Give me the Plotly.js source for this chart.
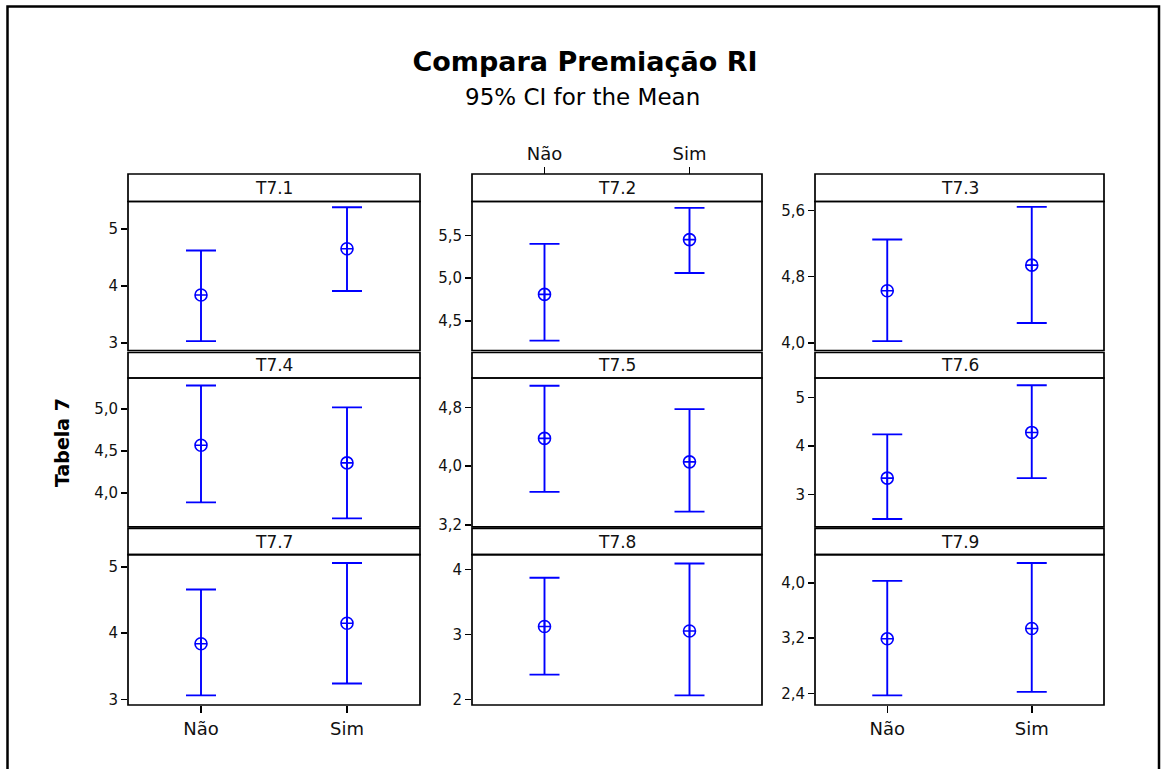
<!DOCTYPE html>
<html>
<head>
<meta charset="utf-8">
<script src="https://cdn.plot.ly/plotly-3.0.1.min.js"></script>
<style>html,body{margin:0;padding:0;background:#fff;}#chart{width:1165px;height:769px;}</style>
</head>
<body>
<div id="chart"></div>
<script>
// ---- data ----
const categories = ['Não', 'Sim'];
const panelNames = ['T7.1','T7.2','T7.3','T7.4','T7.5','T7.6','T7.7','T7.8','T7.9'];
const means = [
  [3.84, 4.65], [4.81, 5.45], [4.63, 4.94],
  [4.57, 4.36], [4.38, 4.06], [3.34, 4.28],
  [3.84, 4.15], [3.12, 3.05], [3.19, 3.34]
];
const lowerCI = [
  [3.03, 3.91], [4.27, 5.06], [4.02, 4.24],
  [3.89, 3.70], [3.65, 3.38], [2.50, 3.34],
  [3.06, 3.24], [2.38, 2.06], [2.37, 2.42]
];
const upperCI = [
  [4.62, 5.38], [5.40, 5.82], [5.25, 5.645],
  [5.28, 5.02], [5.10, 4.78], [4.24, 5.25],
  [4.66, 5.06], [3.87, 4.09], [4.03, 4.29]
];
const yTickVals = [
  [3, 4, 5], [4.5, 5.0, 5.5], [4.0, 4.8, 5.6],
  [4.0, 4.5, 5.0], [3.2, 4.0, 4.8], [3, 4, 5],
  [3, 4, 5], [2, 3, 4], [2.4, 3.2, 4.0]
];
const yTickFormats = ['d', '.1f', '.1f', '.1f', '.1f', 'd', 'd', 'd', '.1f'];
const yRanges = [
  [2.865, 5.48], [4.155, 5.895], [3.907, 5.71],
  [3.60, 5.37], [3.173, 5.205], [2.338, 5.40],
  [2.914, 5.186], [1.912, 4.225], [2.23, 4.41]
];
const titleText = 'Compara Premiação RI';
const subtitleText = '95% CI for the Mean';
const yTitleText = 'Tabela 7';

// ---- layout geometry (pixels) ----
const W = 1165, H = 769;
const cols = [[128, 420], [472, 762], [815, 1104]];
const rows = [
  {strip: 174, top: 201.5, bot: 350.5},
  {strip: 352.5, top: 378, bot: 526.8},
  {strip: 528.3, top: 554.7, bot: 705}
];
const px = v => v / W;
const py = v => 1 - v / H;
const FONT = 'DejaVu Sans';
const BLUE = '#0000FF';

const traces = [];
const shapes = [];
const annotations = [];
const layout = {
  width: W, height: H,
  margin: {l: 0, r: 0, t: 0, b: 0},
  paper_bgcolor: '#ffffff', plot_bgcolor: '#ffffff',
  separators: ',.',
  showlegend: false,
  font: {family: FONT, color: '#000'},
  title: {
    text: '<b>' + titleText + '</b>',
    x: px(585), xanchor: 'center',
    y: py(62), yanchor: 'middle',
    font: {family: FONT, size: 27, color: '#000'}
  }
};

for (let i = 0; i < 9; i++) {
  const r = Math.floor(i / 3), c = i % 3;
  const n = i + 1;
  const xa = 'xaxis' + (n === 1 ? '' : n);
  const ya = 'yaxis' + (n === 1 ? '' : n);
  const xr = 'x' + (n === 1 ? '' : n);
  const yr = 'y' + (n === 1 ? '' : n);
  const row = rows[r], col = cols[c];

  traces.push({
    type: 'scatter', mode: 'markers',
    x: categories, y: means[i],
    xaxis: xr, yaxis: yr,
    marker: {symbol: 'circle-cross-open', size: 12, color: BLUE, line: {color: BLUE, width: 1.6}},
    error_y: {
      type: 'data', symmetric: false,
      array: means[i].map((m, k) => upperCI[i][k] - m),
      arrayminus: means[i].map((m, k) => m - lowerCI[i][k]),
      color: BLUE, thickness: 1.9, width: 15
    },
    hoverinfo: 'x+y'
  });

  const showBottom = (r === 2 && c !== 1);
  const showTop = (r === 0 && c === 1);
  const xaxis = {
    type: 'category',
    domain: [px(col[0]), px(col[1])],
    range: [-0.5, 1.5],
    showgrid: false, zeroline: false, showline: false,
    tickfont: {family: FONT, size: 18, color: '#111'},
    ticks: '', showticklabels: false,
    fixedrange: true
  };
  if (showBottom) {
    xaxis.anchor = yr;
    xaxis.side = 'bottom';
    xaxis.ticks = 'outside'; xaxis.ticklen = 7; xaxis.tickwidth = 1.5; xaxis.tickcolor = '#000';
    xaxis.showticklabels = true;
  } else if (showTop) {
    xaxis.anchor = 'free';
    xaxis.position = py(row.strip);
    xaxis.side = 'top';
    xaxis.ticks = 'outside'; xaxis.ticklen = 7; xaxis.tickwidth = 1.5; xaxis.tickcolor = '#000';
    xaxis.showticklabels = true;
  } else {
    xaxis.anchor = yr;
  }
  layout[xa] = xaxis;

  layout[ya] = {
    anchor: xr,
    domain: [py(row.bot), py(row.top)],
    range: yRanges[i],
    tickvals: yTickVals[i],
    tickformat: yTickFormats[i],
    ticks: 'outside', ticklen: 6, tickwidth: 1.5, tickcolor: '#000',
    tickfont: {family: FONT, size: 15, color: '#111'},
    showgrid: false, zeroline: false, showline: false,
    fixedrange: true
  };

  // plot box
  shapes.push({type: 'rect', xref: 'paper', yref: 'paper',
    x0: px(col[0]), x1: px(col[1]), y0: py(row.bot), y1: py(row.top),
    line: {color: '#000', width: 1.7}, fillcolor: 'rgba(0,0,0,0)'});
  // strip box
  shapes.push({type: 'rect', xref: 'paper', yref: 'paper',
    x0: px(col[0]), x1: px(col[1]), y0: py(row.top), y1: py(row.strip),
    line: {color: '#000', width: 1.7}, fillcolor: 'rgba(0,0,0,0)'});
  annotations.push({
    text: panelNames[i], xref: 'paper', yref: 'paper',
    x: px((col[0] + col[1]) / 2), y: py((row.strip + row.top) / 2),
    xanchor: 'center', yanchor: 'middle', showarrow: false,
    font: {family: FONT, size: 17, color: '#111'}
  });
}

// subtitle
annotations.push({
  text: subtitleText, xref: 'paper', yref: 'paper',
  x: px(582), y: py(97), xanchor: 'center', yanchor: 'middle', showarrow: false,
  font: {family: FONT, size: 23, color: '#000'}
});
// y axis title
annotations.push({
  text: '<b>' + yTitleText + '</b>', xref: 'paper', yref: 'paper',
  x: px(62), y: py(443), xanchor: 'center', yanchor: 'middle', showarrow: false,
  textangle: -90,
  font: {family: FONT, size: 19, color: '#000'}
});
// outer frame
shapes.push({type: 'rect', xref: 'paper', yref: 'paper',
  x0: px(7.5), x1: px(1159), y0: -0.02, y1: py(6.5),
  line: {color: '#000', width: 2.5}, fillcolor: 'rgba(0,0,0,0)'});

layout.shapes = shapes;
layout.annotations = annotations;

Plotly.newPlot('chart', traces, layout, {displayModeBar: false, staticPlot: true});
</script>
</body>
</html>
